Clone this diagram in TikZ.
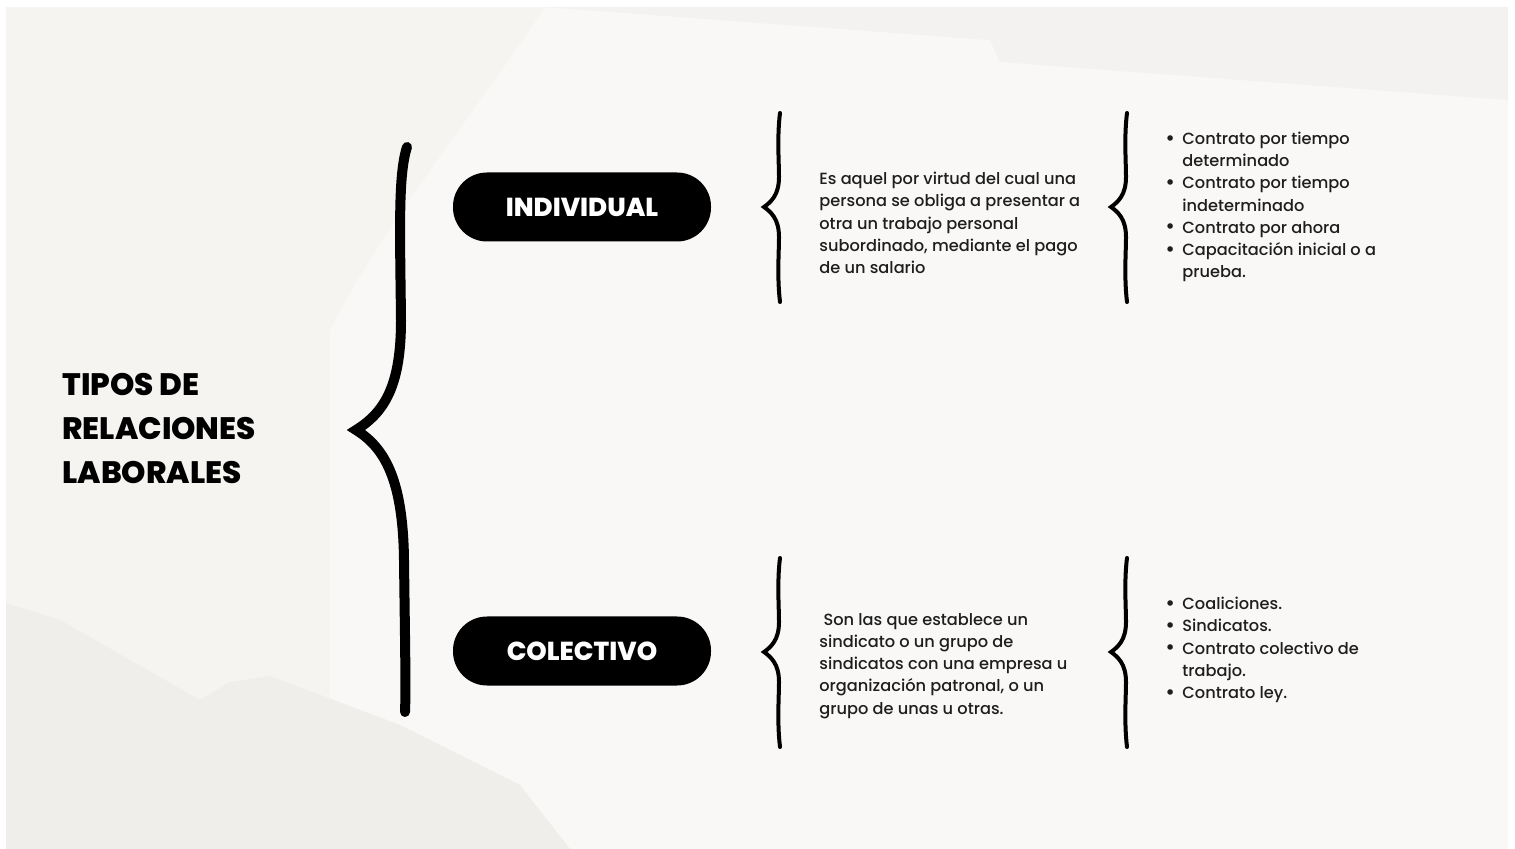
\documentclass[tikz,border=0pt]{standalone}
\usepackage{fontspec}
\usepackage{graphicx}
\setmainfont{Poppins}
\newfontfamily\bodyfont{Poppins Medium}
\newfontfamily\heavyfont{Poppins ExtraBold}
\definecolor{bgbase}{HTML}{F5F4F1}
\definecolor{bglight}{HTML}{F9F8F6}
\definecolor{bggray}{HTML}{EFEEEB}
\definecolor{bgtop}{HTML}{F4F2F0}
\definecolor{ink}{HTML}{1E1E1E}
\tikzset{
  bigbrace/.style={line width=5pt, line cap=round, black},
  sbrace/.style={line width=2pt, line cap=round, black},
  pill/.style={fill=black, text=white, rounded corners=17pt, minimum width=129pt, minimum height=34.5pt, inner sep=0pt, font=\heavyfont\fontsize{13}{15}\selectfont},
  titletext/.style={align=left, inner sep=0pt, font=\heavyfont\fontsize{15.5}{22}\selectfont},
  bodytext/.style={align=left, inner sep=0pt, text=ink, font=\bodyfont\fontsize{8.1}{11.1}\selectfont}
}
\newcommand\bl{\makebox[8.5pt][l]{\raisebox{-0.3pt}{\scalebox{1.3}{\textbullet}}}}
\newcommand\ind{\hspace*{8.5pt}}
\newcommand\mybrace[2]{\draw[sbrace] (#1+1,#2-94) .. controls (#1-2,#2-70) and (#1,#2-45) .. (#1,#2-30) .. controls (#1,#2-12) and (#1-8,#2-5) .. (#1-15,#2) .. controls (#1-8,#2+5) and (#1,#2+12) .. (#1,#2+30) .. controls (#1,#2+45) and (#1-2,#2+70) .. (#1+1,#2+95);}
\begin{document}
\begin{tikzpicture}[x=0.5pt, y=-0.5pt]
% background
\fill[white] (0,0) rectangle (1515,849);
\fill[bgbase] (6,7) rectangle (1508,849);
\fill[bglight] (545,7) .. controls (470,120) and (380,230) .. (330,330) -- (330,849) -- (1508,849) -- (1508,100) -- (1000,60) -- (990,40) -- (545,7);
\fill[bgtop] (990,40) -- (1000,62) -- (1508,100) -- (1508,7) -- (545,7) -- cycle;
\fill[bggray] (6,603) -- (60,620) -- (200,700) -- (230,682) -- (270,676) -- (400,725) -- (520,785) -- (570,849) -- (6,849) -- cycle;
% title
\node[titletext, anchor=west] (title) at (62,429) {TIPOS DE\\RELACIONES\\LABORALES};
% main brace
\draw[bigbrace] (407,147) .. controls (398,175) and (400,230) .. (401,320) .. controls (401,385) and (385,412) .. (356,430) .. controls (385,448) and (403,480) .. (404,560) .. controls (405,640) and (406,690) .. (405,712);
% pills
\node[pill] (ind) at (582,207) {INDIVIDUAL};
\node[pill] (col) at (582,651) {COLECTIVO};
% small braces
\mybrace{779}{207}
\mybrace{1126}{207}
\mybrace{779}{652}
\mybrace{1126}{652}
% texts
\node[bodytext, anchor=west] (indtxt) at (819,223) {Es aquel por virtud del cual una\\persona se obliga a presentar a\\otra un trabajo personal\\subordinado, mediante el pago\\de un salario};
\node[bodytext, anchor=west] (coltxt) at (819,666) {\ Son las que establece un\\sindicato o un grupo de\\sindicatos con una empresa u\\organización patronal, o un\\grupo de unas u otras.};
\node[bodytext, anchor=west] (indlist) at (1165,207) {\bl Contrato por tiempo\\\ind determinado\\\bl Contrato por tiempo\\\ind indeterminado\\\bl Contrato por ahora\\\bl Capacitación inicial o a\\\ind prueba.};
\node[bodytext, anchor=west] (collist) at (1165,650) {\bl Coaliciones.\\\bl Sindicatos.\\\bl Contrato colectivo de\\\ind trabajo.\\\bl Contrato ley.};
\end{tikzpicture}
\end{document}
